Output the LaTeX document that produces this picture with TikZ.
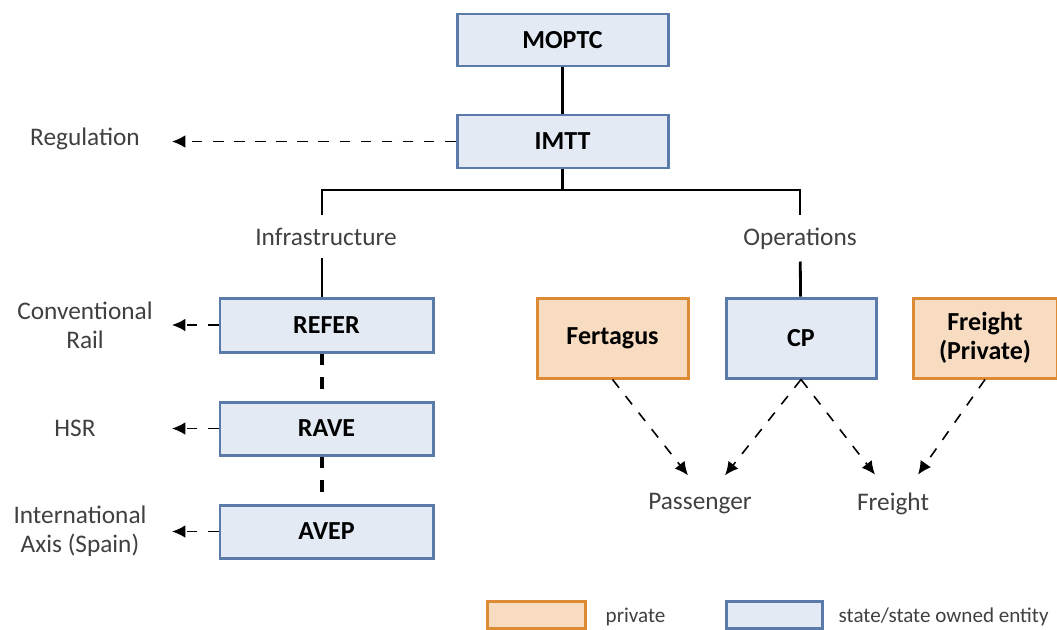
\documentclass[tikz,border=0pt]{standalone}
\usepackage{fontspec}
\setmainfont{Carlito}
\usetikzlibrary{arrows.meta}
\definecolor{statefill}{HTML}{E3EAF4}
\definecolor{stateline}{HTML}{5A7BAA}
\definecolor{privfill}{HTML}{F8DCC1}
\definecolor{privline}{HTML}{DD8A35}
\definecolor{labtext}{HTML}{404040}
\tikzset{
	statebox/.style={draw=stateline, fill=statefill, line width=0.85pt, inner sep=0pt,
		font=\fontsize{7.4}{8.1}\selectfont\bfseries, align=center},
	privbox/.style={statebox, draw=privline, fill=privfill},
	lab/.style={text=labtext, font=\fontsize{7.2}{8.3}\selectfont, align=center},
	leg/.style={lab, font=\fontsize{6}{7}\selectfont, anchor=west, inner sep=0pt},
	link/.style={line width=0.8pt},
	arr/.style={dashed, line width=0.45pt, -{Latex[length=3.8pt,width=3.6pt]}},
}
\begin{document}
\begin{tikzpicture}
	\useasboundingbox (0,0) rectangle (10.57,-6.29);
	% hierarchy
	\node[statebox, minimum width=2.11cm, minimum height=0.52cm] (moptc) at (5.625,-0.40) {MOPTC};
	\node[statebox, minimum width=2.11cm, minimum height=0.53cm] (imtt) at (5.625,-1.415) {IMTT};
	\node[lab, anchor=base] (infra) at (3.26,-2.45) {Infrastructure};
	\node[lab, anchor=base] (ops) at (8.00,-2.45) {Operations};
	\coordinate (split) at (5.625,-1.90);
	\draw[link] (moptc) -- (imtt);
	\draw[link] (imtt) -- (split);
	\draw[link] (infra.north -| 3.22,0) |- (split) -| (ops.north);
	% infrastructure side
	\node[statebox, minimum width=2.13cm, minimum height=0.54cm] (refer) at (3.265,-3.25) {REFER};
	\node[statebox, minimum width=2.13cm, minimum height=0.53cm] (rave) at (3.265,-4.285) {RAVE};
	\node[statebox, minimum width=2.13cm, minimum height=0.53cm] (avep) at (3.265,-5.315) {AVEP};
	\draw[link] (infra.south -| 3.22,0) -- (refer.north -| 3.22,0);
	\draw[line width=1pt, dash pattern=on 3.4pt off 3.4pt] (refer.south -| 3.22,0) -- (rave.north -| 3.22,0);
	\draw[line width=1pt, dash pattern=on 3.4pt off 3.4pt] (rave.south -| 3.22,0) -- (avep.north -| 3.22,0);
	% left labels
	\coordinate (tip) at (1.72,0);
	\node[lab] (reg) at (0.85,-1.39) {Regulation};
	\node[lab] (conv) at (0.85,-3.25) {Conventional\\Rail};
	\node[lab] (hsr) at (0.75,-4.28) {HSR};
	\node[lab] (intl) at (0.80,-5.31) {International\\Axis (Spain)};
	\draw[arr] (imtt.west) -- (imtt.west -| tip);
	\draw[arr] (refer.west) -- (refer.west -| tip);
	\draw[arr] (rave.west) -- (rave.west -| tip);
	\draw[arr] (avep.west) -- (avep.west -| tip);
	% operations side
	\node[privbox, minimum width=1.51cm, minimum height=0.80cm] (fert) at (6.125,-3.38) {Fertagus};
	\node[statebox, minimum width=1.50cm, minimum height=0.80cm] (cp) at (8.01,-3.38) {CP};
	\node[privbox, minimum width=1.44cm, minimum height=0.80cm] (fpriv) at (9.85,-3.38) {Freight\\(Private)};
	\draw[link] (ops) -- (cp);
	\node[lab] (pass) at (7.00,-5.04) {Passenger};
	\node[lab] (frt) at (8.93,-5.04) {Freight};
	\draw[arr] (fert.south) -- ([xshift=-1.2mm,yshift=0.6mm]pass.north);
	\draw[arr] (cp.south) -- ([xshift=2.5mm,yshift=0.6mm]pass.north);
	\draw[arr] (cp.south) -- ([xshift=-1.8mm,yshift=0.6mm]frt.north);
	\draw[arr] (fpriv.south) -- ([xshift=2.5mm,yshift=0.6mm]frt.north);
	% legend
	\node[privbox, minimum width=0.98cm, minimum height=0.27cm] (legpriv) at (5.36,-6.145) {};
	\node[leg] (legprivtxt) at (6.05,-6.17) {private};
	\node[statebox, minimum width=0.96cm, minimum height=0.27cm] (legstate) at (7.74,-6.145) {};
	\node[leg] (legstatetxt) at (8.38,-6.17) {state/state owned entity};
\end{tikzpicture}
\end{document}
